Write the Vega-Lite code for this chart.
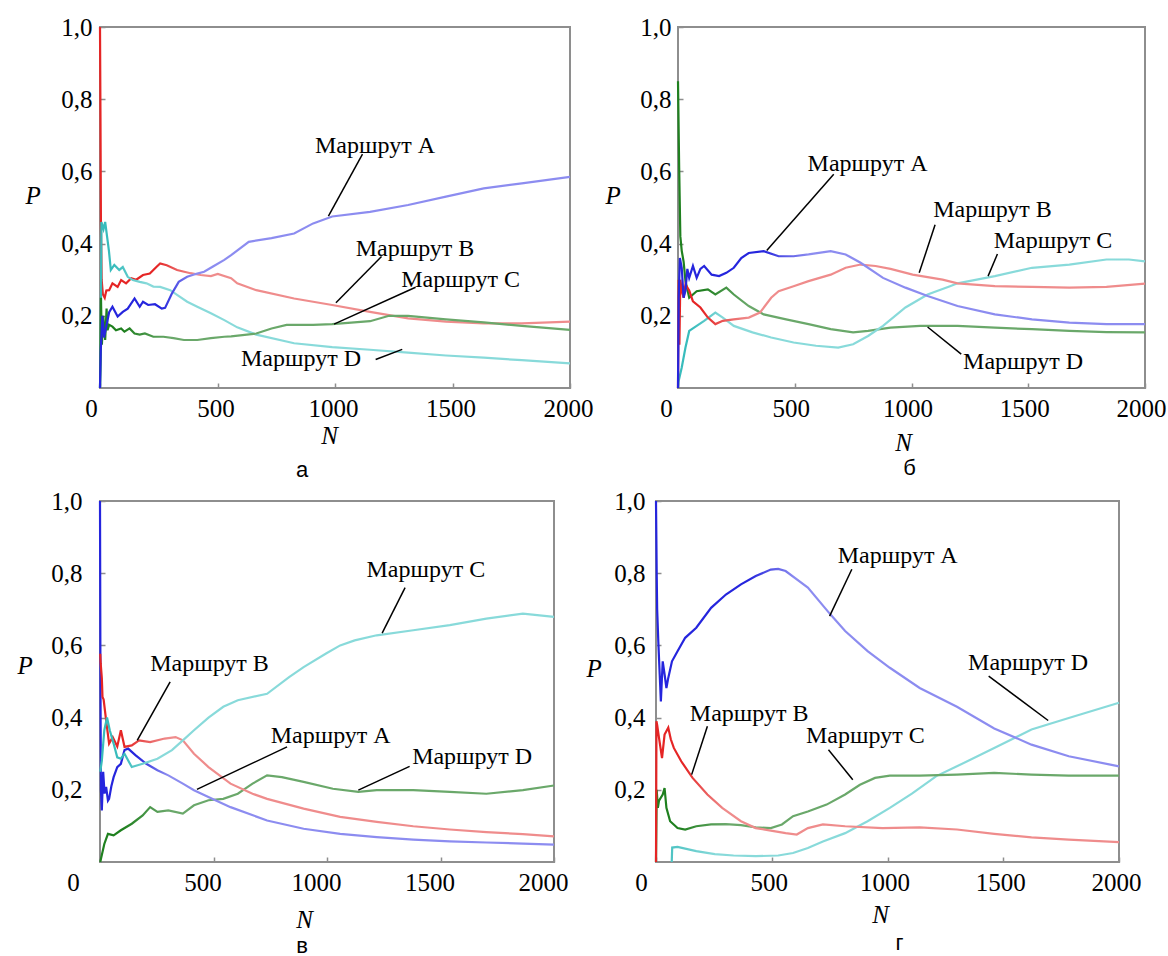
{
"$schema": "https://vega.github.io/schema/vega-lite/v6.json",
"padding": {"left": 16, "top": 14, "right": 0, "bottom": 0},
"config": {"font": "Liberation Serif", "view": {"stroke": "#8e8e8e", "strokeWidth": 2}, "axis": {"grid": false, "domain": false, "ticks": true, "tickSize": -5, "tickColor": "#8e8e8e", "tickWidth": 1.5, "labelFont": "Liberation Serif", "titleFont": "Liberation Serif"}},
"datasets": {
"a": [
{"r":"A","n":0,"p":0},{"r":"A","n":3,"p":0.1},{"r":"A","n":10,"p":0.2},{"r":"A","n":17,"p":0.14},{"r":"A","n":39,"p":0.21},{"r":"A","n":53,"p":0.225},{"r":"A","n":75,"p":0.198},{"r":"A","n":97,"p":0.211},{"r":"A","n":118,"p":0.22},{"r":"A","n":147,"p":0.248},{"r":"A","n":169,"p":0.225},{"r":"A","n":183,"p":0.239},{"r":"A","n":205,"p":0.23},{"r":"A","n":234,"p":0.232},{"r":"A","n":263,"p":0.22},{"r":"A","n":277,"p":0.222},{"r":"A","n":306,"p":0.262},{"r":"A","n":335,"p":0.294},{"r":"A","n":371,"p":0.308},{"r":"A","n":414,"p":0.317},{"r":"A","n":443,"p":0.322},{"r":"A","n":479,"p":0.336},{"r":"A","n":529,"p":0.355},{"r":"A","n":558,"p":0.368},{"r":"A","n":633,"p":0.405},{"r":"A","n":730,"p":0.415},{"r":"A","n":826,"p":0.428},{"r":"A","n":907,"p":0.456},{"r":"A","n":988,"p":0.475},{"r":"A","n":1149,"p":0.488},{"r":"A","n":1311,"p":0.507},{"r":"A","n":1472,"p":0.53},{"r":"A","n":1633,"p":0.553},{"r":"A","n":1795,"p":0.567},{"r":"A","n":2000,"p":0.585},
{"r":"B","n":0,"p":1},{"r":"B","n":2,"p":0.75},{"r":"B","n":4,"p":0.45},{"r":"B","n":7,"p":0.3},{"r":"B","n":12,"p":0.26},{"r":"B","n":20,"p":0.25},{"r":"B","n":27,"p":0.27},{"r":"B","n":39,"p":0.271},{"r":"B","n":53,"p":0.29},{"r":"B","n":75,"p":0.28},{"r":"B","n":90,"p":0.299},{"r":"B","n":111,"p":0.29},{"r":"B","n":133,"p":0.304},{"r":"B","n":154,"p":0.3},{"r":"B","n":183,"p":0.313},{"r":"B","n":212,"p":0.317},{"r":"B","n":241,"p":0.336},{"r":"B","n":256,"p":0.345},{"r":"B","n":284,"p":0.34},{"r":"B","n":328,"p":0.327},{"r":"B","n":385,"p":0.318},{"r":"B","n":428,"p":0.313},{"r":"B","n":472,"p":0.31},{"r":"B","n":501,"p":0.316},{"r":"B","n":558,"p":0.304},{"r":"B","n":584,"p":0.29},{"r":"B","n":665,"p":0.271},{"r":"B","n":826,"p":0.248},{"r":"B","n":988,"p":0.23},{"r":"B","n":1149,"p":0.211},{"r":"B","n":1311,"p":0.193},{"r":"B","n":1472,"p":0.184},{"r":"B","n":1633,"p":0.179},{"r":"B","n":1795,"p":0.179},{"r":"B","n":2000,"p":0.184},
{"r":"C","n":0,"p":0},{"r":"C","n":2,"p":0.08},{"r":"C","n":4,"p":0.25},{"r":"C","n":8,"p":0.12},{"r":"C","n":14,"p":0.2},{"r":"C","n":22,"p":0.133},{"r":"C","n":28,"p":0.22},{"r":"C","n":32,"p":0.16},{"r":"C","n":39,"p":0.175},{"r":"C","n":53,"p":0.17},{"r":"C","n":68,"p":0.16},{"r":"C","n":90,"p":0.165},{"r":"C","n":104,"p":0.156},{"r":"C","n":126,"p":0.165},{"r":"C","n":147,"p":0.151},{"r":"C","n":169,"p":0.148},{"r":"C","n":191,"p":0.151},{"r":"C","n":227,"p":0.142},{"r":"C","n":270,"p":0.142},{"r":"C","n":313,"p":0.138},{"r":"C","n":357,"p":0.133},{"r":"C","n":414,"p":0.133},{"r":"C","n":472,"p":0.138},{"r":"C","n":529,"p":0.142},{"r":"C","n":558,"p":0.143},{"r":"C","n":665,"p":0.151},{"r":"C","n":730,"p":0.165},{"r":"C","n":794,"p":0.175},{"r":"C","n":907,"p":0.175},{"r":"C","n":988,"p":0.177},{"r":"C","n":1149,"p":0.185},{"r":"C","n":1230,"p":0.2},{"r":"C","n":1311,"p":0.2},{"r":"C","n":1472,"p":0.19},{"r":"C","n":1633,"p":0.182},{"r":"C","n":1795,"p":0.172},{"r":"C","n":2000,"p":0.161},
{"r":"D","n":0,"p":0},{"r":"D","n":3,"p":0.1},{"r":"D","n":6,"p":0.46},{"r":"D","n":15,"p":0.44},{"r":"D","n":22,"p":0.46},{"r":"D","n":30,"p":0.42},{"r":"D","n":38,"p":0.38},{"r":"D","n":46,"p":0.327},{"r":"D","n":61,"p":0.341},{"r":"D","n":82,"p":0.327},{"r":"D","n":97,"p":0.335},{"r":"D","n":118,"p":0.308},{"r":"D","n":140,"p":0.299},{"r":"D","n":169,"p":0.294},{"r":"D","n":198,"p":0.29},{"r":"D","n":227,"p":0.281},{"r":"D","n":256,"p":0.28},{"r":"D","n":299,"p":0.271},{"r":"D","n":328,"p":0.258},{"r":"D","n":371,"p":0.239},{"r":"D","n":414,"p":0.225},{"r":"D","n":472,"p":0.207},{"r":"D","n":529,"p":0.188},{"r":"D","n":584,"p":0.168},{"r":"D","n":665,"p":0.148},{"r":"D","n":826,"p":0.124},{"r":"D","n":988,"p":0.113},{"r":"D","n":1149,"p":0.106},{"r":"D","n":1311,"p":0.098},{"r":"D","n":1472,"p":0.09},{"r":"D","n":1633,"p":0.084},{"r":"D","n":1795,"p":0.077},{"r":"D","n":2000,"p":0.068}
],
"b": [
{"r":"A","n":0,"p":0},{"r":"A","n":3,"p":0.25},{"r":"A","n":8,"p":0.36},{"r":"A","n":16,"p":0.333},{"r":"A","n":24,"p":0.25},{"r":"A","n":32,"p":0.27},{"r":"A","n":40,"p":0.33},{"r":"A","n":48,"p":0.305},{"r":"A","n":64,"p":0.338},{"r":"A","n":80,"p":0.305},{"r":"A","n":96,"p":0.33},{"r":"A","n":112,"p":0.338},{"r":"A","n":144,"p":0.314},{"r":"A","n":176,"p":0.31},{"r":"A","n":207,"p":0.319},{"r":"A","n":239,"p":0.333},{"r":"A","n":271,"p":0.36},{"r":"A","n":303,"p":0.374},{"r":"A","n":367,"p":0.379},{"r":"A","n":431,"p":0.365},{"r":"A","n":495,"p":0.365},{"r":"A","n":559,"p":0.37},{"r":"A","n":654,"p":0.379},{"r":"A","n":718,"p":0.37},{"r":"A","n":782,"p":0.347},{"r":"A","n":878,"p":0.305},{"r":"A","n":974,"p":0.278},{"r":"A","n":1069,"p":0.255},{"r":"A","n":1197,"p":0.227},{"r":"A","n":1357,"p":0.204},{"r":"A","n":1516,"p":0.19},{"r":"A","n":1676,"p":0.181},{"r":"A","n":1835,"p":0.177},{"r":"A","n":2000,"p":0.177},
{"r":"B","n":0,"p":0},{"r":"B","n":3,"p":0.3},{"r":"B","n":6,"p":0.12},{"r":"B","n":10,"p":0.3},{"r":"B","n":16,"p":0.27},{"r":"B","n":24,"p":0.25},{"r":"B","n":32,"p":0.287},{"r":"B","n":48,"p":0.27},{"r":"B","n":64,"p":0.24},{"r":"B","n":96,"p":0.223},{"r":"B","n":128,"p":0.195},{"r":"B","n":160,"p":0.177},{"r":"B","n":192,"p":0.186},{"r":"B","n":239,"p":0.19},{"r":"B","n":303,"p":0.195},{"r":"B","n":351,"p":0.209},{"r":"B","n":399,"p":0.25},{"r":"B","n":431,"p":0.268},{"r":"B","n":495,"p":0.282},{"r":"B","n":559,"p":0.296},{"r":"B","n":654,"p":0.314},{"r":"B","n":718,"p":0.333},{"r":"B","n":782,"p":0.342},{"r":"B","n":846,"p":0.338},{"r":"B","n":910,"p":0.33},{"r":"B","n":1005,"p":0.314},{"r":"B","n":1133,"p":0.3},{"r":"B","n":1197,"p":0.29},{"r":"B","n":1357,"p":0.282},{"r":"B","n":1516,"p":0.28},{"r":"B","n":1676,"p":0.278},{"r":"B","n":1835,"p":0.28},{"r":"B","n":2000,"p":0.289},
{"r":"C","n":0,"p":0},{"r":"C","n":3,"p":0.02},{"r":"C","n":16,"p":0.057},{"r":"C","n":32,"p":0.112},{"r":"C","n":48,"p":0.158},{"r":"C","n":80,"p":0.172},{"r":"C","n":112,"p":0.186},{"r":"C","n":160,"p":0.209},{"r":"C","n":192,"p":0.195},{"r":"C","n":239,"p":0.172},{"r":"C","n":319,"p":0.154},{"r":"C","n":399,"p":0.14},{"r":"C","n":495,"p":0.126},{"r":"C","n":591,"p":0.117},{"r":"C","n":686,"p":0.112},{"r":"C","n":750,"p":0.121},{"r":"C","n":814,"p":0.144},{"r":"C","n":878,"p":0.172},{"r":"C","n":974,"p":0.223},{"r":"C","n":1069,"p":0.259},{"r":"C","n":1165,"p":0.282},{"r":"C","n":1197,"p":0.29},{"r":"C","n":1357,"p":0.31},{"r":"C","n":1516,"p":0.333},{"r":"C","n":1676,"p":0.342},{"r":"C","n":1835,"p":0.356},{"r":"C","n":1931,"p":0.356},{"r":"C","n":2000,"p":0.351},
{"r":"D","n":0,"p":0.85},{"r":"D","n":5,"p":0.61},{"r":"D","n":10,"p":0.42},{"r":"D","n":16,"p":0.38},{"r":"D","n":24,"p":0.35},{"r":"D","n":32,"p":0.296},{"r":"D","n":48,"p":0.25},{"r":"D","n":80,"p":0.268},{"r":"D","n":128,"p":0.273},{"r":"D","n":160,"p":0.259},{"r":"D","n":207,"p":0.278},{"r":"D","n":239,"p":0.259},{"r":"D","n":303,"p":0.227},{"r":"D","n":367,"p":0.204},{"r":"D","n":463,"p":0.19},{"r":"D","n":559,"p":0.177},{"r":"D","n":654,"p":0.163},{"r":"D","n":750,"p":0.154},{"r":"D","n":814,"p":0.158},{"r":"D","n":910,"p":0.167},{"r":"D","n":1037,"p":0.172},{"r":"D","n":1197,"p":0.172},{"r":"D","n":1357,"p":0.167},{"r":"D","n":1516,"p":0.163},{"r":"D","n":1676,"p":0.158},{"r":"D","n":1835,"p":0.155},{"r":"D","n":2000,"p":0.154}
],
"c": [
{"r":"A","n":0,"p":1},{"r":"A","n":2,"p":0.5},{"r":"A","n":4,"p":0.2},{"r":"A","n":8,"p":0.143},{"r":"A","n":14,"p":0.25},{"r":"A","n":20,"p":0.19},{"r":"A","n":27,"p":0.208},{"r":"A","n":35,"p":0.17},{"r":"A","n":40,"p":0.175},{"r":"A","n":50,"p":0.21},{"r":"A","n":60,"p":0.235},{"r":"A","n":76,"p":0.263},{"r":"A","n":92,"p":0.272},{"r":"A","n":108,"p":0.31},{"r":"A","n":124,"p":0.314},{"r":"A","n":156,"p":0.296},{"r":"A","n":204,"p":0.272},{"r":"A","n":253,"p":0.254},{"r":"A","n":301,"p":0.24},{"r":"A","n":365,"p":0.217},{"r":"A","n":414,"p":0.199},{"r":"A","n":494,"p":0.175},{"r":"A","n":575,"p":0.152},{"r":"A","n":736,"p":0.115},{"r":"A","n":897,"p":0.092},{"r":"A","n":1058,"p":0.078},{"r":"A","n":1219,"p":0.069},{"r":"A","n":1380,"p":0.062},{"r":"A","n":1541,"p":0.057},{"r":"A","n":1702,"p":0.054},{"r":"A","n":1863,"p":0.051},{"r":"A","n":2000,"p":0.048},
{"r":"B","n":1,"p":0.577},{"r":"B","n":3,"p":0.55},{"r":"B","n":8,"p":0.51},{"r":"B","n":11,"p":0.457},{"r":"B","n":16,"p":0.45},{"r":"B","n":27,"p":0.392},{"r":"B","n":40,"p":0.328},{"r":"B","n":56,"p":0.346},{"r":"B","n":76,"p":0.32},{"r":"B","n":92,"p":0.365},{"r":"B","n":108,"p":0.319},{"r":"B","n":140,"p":0.323},{"r":"B","n":172,"p":0.337},{"r":"B","n":221,"p":0.332},{"r":"B","n":285,"p":0.342},{"r":"B","n":333,"p":0.346},{"r":"B","n":365,"p":0.337},{"r":"B","n":414,"p":0.3},{"r":"B","n":478,"p":0.263},{"r":"B","n":575,"p":0.217},{"r":"B","n":672,"p":0.189},{"r":"B","n":736,"p":0.175},{"r":"B","n":897,"p":0.148},{"r":"B","n":1058,"p":0.125},{"r":"B","n":1219,"p":0.111},{"r":"B","n":1380,"p":0.099},{"r":"B","n":1541,"p":0.09},{"r":"B","n":1702,"p":0.083},{"r":"B","n":1863,"p":0.077},{"r":"B","n":2000,"p":0.071},
{"r":"C","n":1,"p":0.25},{"r":"C","n":8,"p":0.28},{"r":"C","n":19,"p":0.365},{"r":"C","n":31,"p":0.4},{"r":"C","n":43,"p":0.365},{"r":"C","n":60,"p":0.328},{"r":"C","n":76,"p":0.29},{"r":"C","n":92,"p":0.286},{"r":"C","n":108,"p":0.3},{"r":"C","n":140,"p":0.263},{"r":"C","n":188,"p":0.272},{"r":"C","n":253,"p":0.286},{"r":"C","n":317,"p":0.31},{"r":"C","n":365,"p":0.337},{"r":"C","n":414,"p":0.365},{"r":"C","n":478,"p":0.4},{"r":"C","n":543,"p":0.43},{"r":"C","n":607,"p":0.448},{"r":"C","n":736,"p":0.466},{"r":"C","n":833,"p":0.512},{"r":"C","n":897,"p":0.54},{"r":"C","n":994,"p":0.577},{"r":"C","n":1058,"p":0.6},{"r":"C","n":1122,"p":0.614},{"r":"C","n":1219,"p":0.628},{"r":"C","n":1380,"p":0.642},{"r":"C","n":1541,"p":0.656},{"r":"C","n":1702,"p":0.674},{"r":"C","n":1863,"p":0.688},{"r":"C","n":2000,"p":0.679},
{"r":"D","n":1,"p":0},{"r":"D","n":19,"p":0.05},{"r":"D","n":35,"p":0.078},{"r":"D","n":60,"p":0.074},{"r":"D","n":92,"p":0.088},{"r":"D","n":140,"p":0.106},{"r":"D","n":188,"p":0.129},{"r":"D","n":221,"p":0.152},{"r":"D","n":253,"p":0.139},{"r":"D","n":301,"p":0.143},{"r":"D","n":365,"p":0.134},{"r":"D","n":414,"p":0.157},{"r":"D","n":478,"p":0.171},{"r":"D","n":543,"p":0.175},{"r":"D","n":607,"p":0.189},{"r":"D","n":672,"p":0.217},{"r":"D","n":736,"p":0.24},{"r":"D","n":801,"p":0.235},{"r":"D","n":897,"p":0.222},{"r":"D","n":1026,"p":0.203},{"r":"D","n":1138,"p":0.194},{"r":"D","n":1219,"p":0.199},{"r":"D","n":1380,"p":0.199},{"r":"D","n":1541,"p":0.194},{"r":"D","n":1702,"p":0.189},{"r":"D","n":1863,"p":0.199},{"r":"D","n":2000,"p":0.212}
],
"d": [
{"r":"A","n":0,"p":1},{"r":"A","n":3,"p":0.8},{"r":"A","n":5,"p":0.7},{"r":"A","n":10,"p":0.61},{"r":"A","n":16,"p":0.52},{"r":"A","n":21,"p":0.445},{"r":"A","n":29,"p":0.556},{"r":"A","n":37,"p":0.52},{"r":"A","n":45,"p":0.482},{"r":"A","n":53,"p":0.51},{"r":"A","n":69,"p":0.556},{"r":"A","n":93,"p":0.584},{"r":"A","n":126,"p":0.621},{"r":"A","n":174,"p":0.649},{"r":"A","n":238,"p":0.704},{"r":"A","n":302,"p":0.741},{"r":"A","n":367,"p":0.769},{"r":"A","n":431,"p":0.792},{"r":"A","n":496,"p":0.81},{"r":"A","n":528,"p":0.812},{"r":"A","n":560,"p":0.806},{"r":"A","n":656,"p":0.76},{"r":"A","n":753,"p":0.686},{"r":"A","n":817,"p":0.64},{"r":"A","n":914,"p":0.584},{"r":"A","n":1010,"p":0.538},{"r":"A","n":1139,"p":0.482},{"r":"A","n":1300,"p":0.43},{"r":"A","n":1461,"p":0.37},{"r":"A","n":1622,"p":0.325},{"r":"A","n":1783,"p":0.293},{"r":"A","n":2000,"p":0.265},
{"r":"B","n":0,"p":0},{"r":"B","n":2,"p":0.39},{"r":"B","n":5,"p":0.38},{"r":"B","n":13,"p":0.344},{"r":"B","n":26,"p":0.288},{"r":"B","n":37,"p":0.353},{"r":"B","n":53,"p":0.372},{"r":"B","n":64,"p":0.34},{"r":"B","n":77,"p":0.316},{"r":"B","n":109,"p":0.279},{"r":"B","n":158,"p":0.233},{"r":"B","n":222,"p":0.187},{"r":"B","n":286,"p":0.15},{"r":"B","n":367,"p":0.113},{"r":"B","n":431,"p":0.094},{"r":"B","n":496,"p":0.087},{"r":"B","n":560,"p":0.08},{"r":"B","n":608,"p":0.076},{"r":"B","n":656,"p":0.094},{"r":"B","n":721,"p":0.104},{"r":"B","n":817,"p":0.099},{"r":"B","n":978,"p":0.094},{"r":"B","n":1139,"p":0.096},{"r":"B","n":1300,"p":0.09},{"r":"B","n":1461,"p":0.078},{"r":"B","n":1622,"p":0.068},{"r":"B","n":1783,"p":0.062},{"r":"B","n":2000,"p":0.055},
{"r":"C","n":0,"p":0},{"r":"C","n":3,"p":0.2},{"r":"C","n":8,"p":0.15},{"r":"C","n":13,"p":0.17},{"r":"C","n":29,"p":0.187},{"r":"C","n":37,"p":0.205},{"r":"C","n":45,"p":0.15},{"r":"C","n":61,"p":0.113},{"r":"C","n":93,"p":0.094},{"r":"C","n":126,"p":0.09},{"r":"C","n":174,"p":0.099},{"r":"C","n":238,"p":0.104},{"r":"C","n":302,"p":0.105},{"r":"C","n":367,"p":0.102},{"r":"C","n":431,"p":0.096},{"r":"C","n":496,"p":0.094},{"r":"C","n":544,"p":0.104},{"r":"C","n":592,"p":0.127},{"r":"C","n":656,"p":0.14},{"r":"C","n":737,"p":0.159},{"r":"C","n":817,"p":0.187},{"r":"C","n":881,"p":0.214},{"r":"C","n":946,"p":0.233},{"r":"C","n":1010,"p":0.239},{"r":"C","n":1139,"p":0.239},{"r":"C","n":1300,"p":0.242},{"r":"C","n":1461,"p":0.247},{"r":"C","n":1622,"p":0.242},{"r":"C","n":1783,"p":0.239},{"r":"C","n":2000,"p":0.239},
{"r":"D","n":68,"p":0},{"r":"D","n":70,"p":0.04},{"r":"D","n":93,"p":0.042},{"r":"D","n":174,"p":0.03},{"r":"D","n":254,"p":0.022},{"r":"D","n":335,"p":0.018},{"r":"D","n":431,"p":0.016},{"r":"D","n":528,"p":0.018},{"r":"D","n":592,"p":0.025},{"r":"D","n":656,"p":0.039},{"r":"D","n":721,"p":0.057},{"r":"D","n":817,"p":0.08},{"r":"D","n":914,"p":0.113},{"r":"D","n":1010,"p":0.15},{"r":"D","n":1107,"p":0.19},{"r":"D","n":1211,"p":0.238},{"r":"D","n":1300,"p":0.265},{"r":"D","n":1461,"p":0.316},{"r":"D","n":1622,"p":0.367},{"r":"D","n":1783,"p":0.399},{"r":"D","n":2000,"p":0.441}
],
"ta": [{"t":"Маршрут A","n":915,"p":0.671},{"t":"Маршрут B","n":1088,"p":0.384},{"t":"Маршрут C","n":1282,"p":0.299},{"t":"Маршрут D","n":600,"p":0.079}],
"sa": [{"n":1117,"p":0.648,"n2":972,"p2":0.476},{"n":1198,"p":0.364,"n2":1004,"p2":0.236},{"n":1343,"p":0.279,"n2":996,"p2":0.177},{"n":1173,"p":0.079,"n2":1286,"p2":0.107}],
"tb": [{"t":"Маршрут A","n":555,"p":0.62},{"t":"Маршрут B","n":1093,"p":0.494},{"t":"Маршрут C","n":1352,"p":0.406},{"t":"Маршрут D","n":1221,"p":0.073}],
"sb": [{"n":667,"p":0.592,"n2":380,"p2":0.381},{"n":1101,"p":0.452,"n2":1033,"p2":0.319},{"n":1368,"p":0.371,"n2":1328,"p2":0.31},{"n":1213,"p":0.094,"n2":1069,"p2":0.169}],
"tc": [{"t":"Маршрут B","n":221,"p":0.549},{"t":"Маршрут A","n":752,"p":0.349},{"t":"Маршрут C","n":1174,"p":0.81},{"t":"Маршрут D","n":1375,"p":0.291}],
"sc": [{"n":309,"p":0.499,"n2":164,"p2":0.337},{"n":824,"p":0.319,"n2":427,"p2":0.201},{"n":1344,"p":0.76,"n2":1243,"p2":0.634},{"n":1364,"p":0.265,"n2":1138,"p2":0.199}],
"td": [{"t":"Маршрут A","n":785,"p":0.847},{"t":"Маршрут D","n":1348,"p":0.552},{"t":"Маршрут B","n":146,"p":0.41},{"t":"Маршрут C","n":648,"p":0.35}],
"sd": [{"n":846,"p":0.811,"n2":750,"p2":0.681},{"n":1437,"p":0.515,"n2":1694,"p2":0.392},{"n":222,"p":0.376,"n2":154,"p2":0.242},{"n":745,"p":0.311,"n2":850,"p2":0.228}]
},
"columns": 1,
"align": "none",
"spacing": 6,
"concat": [
{"bounds": "flush", "spacing": 108, "hconcat": [
{"width": 470, "height": 361,
 "title": {"text": "а", "orient": "bottom", "frame": "group", "anchor": "middle", "dx": -33, "offset": 12, "font": "Liberation Sans", "fontSize": 22, "fontWeight": "normal", "color": "#000"},
 "data": {"name": "a"},
 "encoding": {
  "x": {"field": "n", "type": "quantitative", "scale": {"domain": [0, 2000], "nice": false, "zero": false},
   "axis": {"values": [0, 500, 1000, 1500, 2000], "format": "d", "title": "N", "titleFont": "Liberation Serif", "titleFontStyle": "italic", "titleFontWeight": "normal", "titleFontSize": 25, "titleColor": "#000", "titleX": 229, "titleY": 55, "titleBaseline": "alphabetic", "titleAlign": "center", "labelFont": "Liberation Serif", "labelFontSize": 25, "labelColor": "#000", "labelPadding": 13, "labelFlush": false, "labelOverlap": false, "labelOffset": {"condition": {"test": "datum.value == 0", "value": -9}, "value": -2}}},
  "y": {"field": "p", "type": "quantitative", "scale": {"domain": [0, 1], "nice": false, "zero": false},
   "axis": {"values": [0.2, 0.4, 0.6, 0.8, 1.0], "labelExpr": "replace(format(datum.value, '.1f'), '.', ',')", "title": "P", "titleFont": "Liberation Serif", "titleFontStyle": "italic", "titleFontWeight": "normal", "titleFontSize": 25, "titleColor": "#000", "titleAngle": 0, "titleAlign": "left", "titleBaseline": "alphabetic", "titleX": -75, "titleY": 176, "labelFont": "Liberation Serif", "labelFontSize": 25, "labelColor": "#000", "labelPadding": 13, "labelFlush": false, "labelOverlap": false}}
 },
 "layer": [
  {"transform": [{"filter": "datum.r == 'B'"}], "mark": {"type": "line", "strokeWidth": 2.2, "stroke": {"gradient": "linear", "x1": 0, "y1": 0, "x2": 1, "y2": 0, "stops": [{"offset": 0, "color": "#e52525"}, {"offset": 0.12, "color": "#e52525"}, {"offset": 0.2, "color": "#ef8c8c"}, {"offset": 1, "color": "#ef8c8c"}]}}},
  {"transform": [{"filter": "datum.r == 'D'"}], "mark": {"type": "line", "strokeWidth": 2.2, "stroke": {"gradient": "linear", "x1": 0, "y1": 0, "x2": 1, "y2": 0, "stops": [{"offset": 0, "color": "#38bcbc"}, {"offset": 0.03, "color": "#38bcbc"}, {"offset": 0.1, "color": "#88dada"}, {"offset": 1, "color": "#88dada"}]}}},
  {"transform": [{"filter": "datum.r == 'C'"}], "mark": {"type": "line", "strokeWidth": 2.2, "stroke": {"gradient": "linear", "x1": 0, "y1": 0, "x2": 1, "y2": 0, "stops": [{"offset": 0, "color": "#1f801f"}, {"offset": 0.05, "color": "#1f801f"}, {"offset": 0.15, "color": "#6aa86a"}, {"offset": 1, "color": "#6aa86a"}]}}},
  {"transform": [{"filter": "datum.r == 'A'"}], "mark": {"type": "line", "strokeWidth": 2.2, "stroke": {"gradient": "linear", "x1": 0, "y1": 0, "x2": 1, "y2": 0, "stops": [{"offset": 0, "color": "#2525dd"}, {"offset": 0.13, "color": "#2525dd"}, {"offset": 0.2, "color": "#8c8cf0"}, {"offset": 1, "color": "#8c8cf0"}]}}},
  {"data": {"name": "sa"}, "mark": {"type": "rule", "color": "#000", "strokeWidth": 1.5}, "encoding": {"x2": {"field": "n2"}, "y2": {"field": "p2"}}},
  {"data": {"name": "ta"}, "mark": {"type": "text", "align": "left", "baseline": "middle", "font": "Liberation Serif", "fontSize": 24, "color": "#000"}, "encoding": {"text": {"field": "t"}}}
 ]
},
{"width": 467, "height": 361,
 "title": {"text": "б", "orient": "bottom", "frame": "group", "anchor": "middle", "dx": -2, "offset": 3, "font": "Liberation Sans", "fontSize": 22, "fontWeight": "normal", "color": "#000"},
 "data": {"name": "b"},
 "encoding": {
  "x": {"field": "n", "type": "quantitative", "scale": {"domain": [0, 2000], "nice": false, "zero": false},
   "axis": {"values": [0, 500, 1000, 1500, 2000], "format": "d", "title": "N", "titleFont": "Liberation Serif", "titleFontStyle": "italic", "titleFontWeight": "normal", "titleFontSize": 25, "titleColor": "#000", "titleX": 225, "titleY": 62, "titleBaseline": "alphabetic", "titleAlign": "center", "labelFont": "Liberation Serif", "labelFontSize": 25, "labelColor": "#000", "labelPadding": 13, "labelFlush": false, "labelOverlap": false, "labelOffset": {"condition": {"test": "datum.value == 0", "value": -12}, "value": -4}}},
  "y": {"field": "p", "type": "quantitative", "scale": {"domain": [0, 1], "nice": false, "zero": false},
   "axis": {"values": [0.2, 0.4, 0.6, 0.8, 1.0], "labelExpr": "replace(format(datum.value, '.1f'), '.', ',')", "title": "P", "titleFont": "Liberation Serif", "titleFontStyle": "italic", "titleFontWeight": "normal", "titleFontSize": 25, "titleColor": "#000", "titleAngle": 0, "titleAlign": "left", "titleBaseline": "alphabetic", "titleX": -73, "titleY": 176, "labelFont": "Liberation Serif", "labelFontSize": 25, "labelColor": "#000", "labelPadding": 12, "labelFlush": false, "labelOverlap": false}}
 },
 "layer": [
  {"transform": [{"filter": "datum.r == 'D'"}], "mark": {"type": "line", "strokeWidth": 2.2, "stroke": {"gradient": "linear", "x1": 0, "y1": 0, "x2": 1, "y2": 0, "stops": [{"offset": 0, "color": "#1f801f"}, {"offset": 0.05, "color": "#1f801f"}, {"offset": 0.15, "color": "#6aa86a"}, {"offset": 1, "color": "#6aa86a"}]}}},
  {"transform": [{"filter": "datum.r == 'C'"}], "mark": {"type": "line", "strokeWidth": 2.2, "stroke": {"gradient": "linear", "x1": 0, "y1": 0, "x2": 1, "y2": 0, "stops": [{"offset": 0, "color": "#38bcbc"}, {"offset": 0.03, "color": "#38bcbc"}, {"offset": 0.1, "color": "#88dada"}, {"offset": 1, "color": "#88dada"}]}}},
  {"transform": [{"filter": "datum.r == 'B'"}], "mark": {"type": "line", "strokeWidth": 2.2, "stroke": {"gradient": "linear", "x1": 0, "y1": 0, "x2": 1, "y2": 0, "stops": [{"offset": 0, "color": "#e52525"}, {"offset": 0.05, "color": "#e52525"}, {"offset": 0.15, "color": "#ef8c8c"}, {"offset": 1, "color": "#ef8c8c"}]}}},
  {"transform": [{"filter": "datum.r == 'A'"}], "mark": {"type": "line", "strokeWidth": 2.2, "stroke": {"gradient": "linear", "x1": 0, "y1": 0, "x2": 1, "y2": 0, "stops": [{"offset": 0, "color": "#2525dd"}, {"offset": 0.18, "color": "#2525dd"}, {"offset": 0.28, "color": "#8c8cf0"}, {"offset": 1, "color": "#8c8cf0"}]}}},
  {"data": {"name": "sb"}, "mark": {"type": "rule", "color": "#000", "strokeWidth": 1.5}, "encoding": {"x2": {"field": "n2"}, "y2": {"field": "p2"}}},
  {"data": {"name": "tb"}, "mark": {"type": "text", "align": "left", "baseline": "middle", "font": "Liberation Serif", "fontSize": 24, "color": "#000"}, "encoding": {"text": {"field": "t"}}}
 ]
}
]},
{"bounds": "flush", "spacing": 102, "hconcat": [
{"width": 454, "height": 361,
 "title": {"text": "в", "orient": "bottom", "frame": "group", "anchor": "middle", "dx": -25, "offset": 4, "font": "Liberation Sans", "fontSize": 22, "fontWeight": "normal", "color": "#000"},
 "data": {"name": "c"},
 "encoding": {
  "x": {"field": "n", "type": "quantitative", "scale": {"domain": [0, 2000], "nice": false, "zero": false},
   "axis": {"values": [0, 500, 1000, 1500, 2000], "format": "d", "title": "N", "titleFont": "Liberation Serif", "titleFontStyle": "italic", "titleFontWeight": "normal", "titleFontSize": 25, "titleColor": "#000", "titleX": 204, "titleY": 65, "titleBaseline": "alphabetic", "titleAlign": "center", "labelFont": "Liberation Serif", "labelFontSize": 25, "labelColor": "#000", "labelPadding": 13, "labelFlush": false, "labelOverlap": false, "labelOffset": {"condition": {"test": "datum.value == 0", "value": -27}, "value": -11}}},
  "y": {"field": "p", "type": "quantitative", "scale": {"domain": [0, 1], "nice": false, "zero": false},
   "axis": {"values": [0.2, 0.4, 0.6, 0.8, 1.0], "labelExpr": "replace(format(datum.value, '.1f'), '.', ',')", "title": "P", "titleFont": "Liberation Serif", "titleFontStyle": "italic", "titleFontWeight": "normal", "titleFontSize": 25, "titleColor": "#000", "titleAngle": 0, "titleAlign": "left", "titleBaseline": "alphabetic", "titleX": -83, "titleY": 172, "labelFont": "Liberation Serif", "labelFontSize": 25, "labelColor": "#000", "labelPadding": 23, "labelFlush": false, "labelOverlap": false}}
 },
 "layer": [
  {"transform": [{"filter": "datum.r == 'D'"}], "mark": {"type": "line", "strokeWidth": 2.2, "stroke": {"gradient": "linear", "x1": 0, "y1": 0, "x2": 1, "y2": 0, "stops": [{"offset": 0, "color": "#1f801f"}, {"offset": 0.05, "color": "#1f801f"}, {"offset": 0.15, "color": "#6aa86a"}, {"offset": 1, "color": "#6aa86a"}]}}},
  {"transform": [{"filter": "datum.r == 'A'"}], "mark": {"type": "line", "strokeWidth": 2.2, "stroke": {"gradient": "linear", "x1": 0, "y1": 0, "x2": 1, "y2": 0, "stops": [{"offset": 0, "color": "#2525dd"}, {"offset": 0.08, "color": "#2525dd"}, {"offset": 0.15, "color": "#8c8cf0"}, {"offset": 1, "color": "#8c8cf0"}]}}},
  {"transform": [{"filter": "datum.r == 'B'"}], "mark": {"type": "line", "strokeWidth": 2.2, "stroke": {"gradient": "linear", "x1": 0, "y1": 0, "x2": 1, "y2": 0, "stops": [{"offset": 0, "color": "#e52525"}, {"offset": 0.05, "color": "#e52525"}, {"offset": 0.15, "color": "#ef8c8c"}, {"offset": 1, "color": "#ef8c8c"}]}}},
  {"transform": [{"filter": "datum.r == 'C'"}], "mark": {"type": "line", "strokeWidth": 2.2, "stroke": {"gradient": "linear", "x1": 0, "y1": 0, "x2": 1, "y2": 0, "stops": [{"offset": 0, "color": "#38bcbc"}, {"offset": 0.05, "color": "#38bcbc"}, {"offset": 0.12, "color": "#88dada"}, {"offset": 1, "color": "#88dada"}]}}},
  {"data": {"name": "sc"}, "mark": {"type": "rule", "color": "#000", "strokeWidth": 1.5}, "encoding": {"x2": {"field": "n2"}, "y2": {"field": "p2"}}},
  {"data": {"name": "tc"}, "mark": {"type": "text", "align": "left", "baseline": "middle", "font": "Liberation Serif", "fontSize": 24, "color": "#000"}, "encoding": {"text": {"field": "t"}}}
 ]
},
{"width": 463, "height": 361,
 "title": {"text": "г", "orient": "bottom", "frame": "group", "anchor": "middle", "dx": 12, "offset": 6, "font": "Liberation Sans", "fontSize": 22, "fontWeight": "normal", "color": "#000"},
 "data": {"name": "d"},
 "encoding": {
  "x": {"field": "n", "type": "quantitative", "scale": {"domain": [0, 2000], "nice": false, "zero": false},
   "axis": {"values": [0, 500, 1000, 1500, 2000], "format": "d", "title": "N", "titleFont": "Liberation Serif", "titleFontStyle": "italic", "titleFontWeight": "normal", "titleFontSize": 25, "titleColor": "#000", "titleX": 224, "titleY": 60, "titleBaseline": "alphabetic", "titleAlign": "center", "labelFont": "Liberation Serif", "labelFontSize": 25, "labelColor": "#000", "labelPadding": 13, "labelFlush": false, "labelOverlap": false, "labelOffset": {"condition": {"test": "datum.value == 0", "value": -15}, "value": -3}}},
  "y": {"field": "p", "type": "quantitative", "scale": {"domain": [0, 1], "nice": false, "zero": false},
   "axis": {"values": [0.2, 0.4, 0.6, 0.8, 1.0], "labelExpr": "replace(format(datum.value, '.1f'), '.', ',')", "title": "P", "titleFont": "Liberation Serif", "titleFontStyle": "italic", "titleFontWeight": "normal", "titleFontSize": 25, "titleColor": "#000", "titleAngle": 0, "titleAlign": "left", "titleBaseline": "alphabetic", "titleX": -70, "titleY": 175, "labelFont": "Liberation Serif", "labelFontSize": 25, "labelColor": "#000", "labelPadding": 16, "labelFlush": false, "labelOverlap": false}}
 },
 "layer": [
  {"transform": [{"filter": "datum.r == 'D'"}], "mark": {"type": "line", "strokeWidth": 2.2, "stroke": {"gradient": "linear", "x1": 0, "y1": 0, "x2": 1, "y2": 0, "stops": [{"offset": 0, "color": "#50c4c4"}, {"offset": 0.03, "color": "#60caca"}, {"offset": 0.1, "color": "#88dada"}, {"offset": 1, "color": "#88dada"}]}}},
  {"transform": [{"filter": "datum.r == 'C'"}], "mark": {"type": "line", "strokeWidth": 2.2, "stroke": {"gradient": "linear", "x1": 0, "y1": 0, "x2": 1, "y2": 0, "stops": [{"offset": 0, "color": "#1f801f"}, {"offset": 0.05, "color": "#1f801f"}, {"offset": 0.15, "color": "#6aa86a"}, {"offset": 1, "color": "#6aa86a"}]}}},
  {"transform": [{"filter": "datum.r == 'B'"}], "mark": {"type": "line", "strokeWidth": 2.2, "stroke": {"gradient": "linear", "x1": 0, "y1": 0, "x2": 1, "y2": 0, "stops": [{"offset": 0, "color": "#e52525"}, {"offset": 0.06, "color": "#e52525"}, {"offset": 0.15, "color": "#ef8c8c"}, {"offset": 1, "color": "#ef8c8c"}]}}},
  {"transform": [{"filter": "datum.r == 'A'"}], "mark": {"type": "line", "strokeWidth": 2.2, "stroke": {"gradient": "linear", "x1": 0, "y1": 0, "x2": 1, "y2": 0, "stops": [{"offset": 0, "color": "#2525dd"}, {"offset": 0.2, "color": "#2525dd"}, {"offset": 0.3, "color": "#8c8cf0"}, {"offset": 1, "color": "#8c8cf0"}]}}},
  {"data": {"name": "sd"}, "mark": {"type": "rule", "color": "#000", "strokeWidth": 1.5}, "encoding": {"x2": {"field": "n2"}, "y2": {"field": "p2"}}},
  {"data": {"name": "td"}, "mark": {"type": "text", "align": "left", "baseline": "middle", "font": "Liberation Serif", "fontSize": 24, "color": "#000"}, "encoding": {"text": {"field": "t"}}}
 ]
}
]}
]
}
